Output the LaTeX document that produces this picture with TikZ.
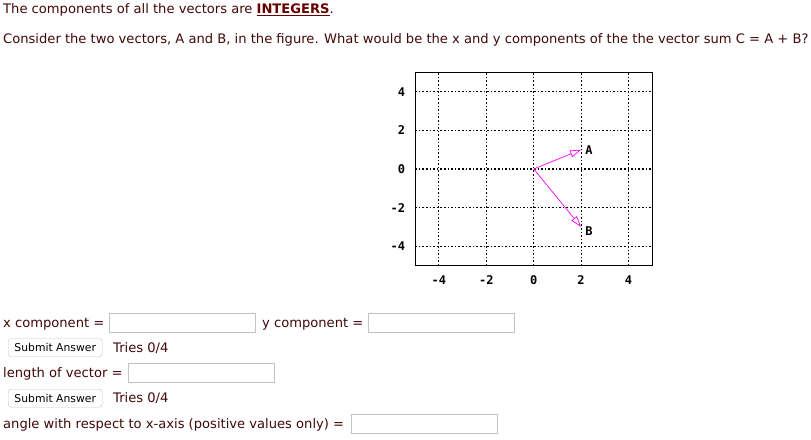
\documentclass[tikz,border=0pt]{standalone}
\usepackage{fontspec}
\setmainfont{DejaVu Sans}
\setmonofont{DejaVu Sans Mono}
\usetikzlibrary{arrows.meta}
\definecolor{txtcol}{RGB}{64,8,8}
\definecolor{emphcol}{RGB}{102,0,0}
\definecolor{veccol}{RGB}{255,0,255}
\definecolor{boxcol}{RGB}{195,195,195}
\begin{document}
\begin{tikzpicture}[x=1pt,y=-1pt,
  txt/.style={anchor=base west, inner sep=0pt, text=txtcol, font=\fontsize{13.1}{15}\selectfont},
  field/.style={draw=boxcol, minimum width=146pt, minimum height=19pt, anchor=north west, inner sep=0pt},
  button/.style={draw=boxcol, rounded corners=3pt, minimum width=94pt, minimum height=18pt, anchor=north west, inner sep=0pt, font=\fontsize{10.8}{12}\selectfont},
  tick/.style={inner sep=0pt, font=\ttfamily\bfseries\fontsize{12}{14}\selectfont},
  grid/.style={line width=1.1pt, dash pattern=on 1.6pt off 2pt},
  vector/.style={veccol, line width=0.7pt, -{Triangle[open, length=11pt, width=7pt]}}]
\useasboundingbox (0,0) rectangle (811,439);
% question text
\node[txt] (title) at (3,13.5) {The components of all the vectors are \textcolor{emphcol}{\underline{\textbf{INTEGERS}}}.};
\node[txt] (question) at (3,43.5) {Consider the two vectors, A and B, in the figure. What would be the x and y components of the the vector sum C = A + B?};
% plot
\begin{scope}[shift={(533.7,169)}, x=23.7pt, y=19.3pt]
\foreach \t in {-4,-2,0,2,4} {
  \draw[grid] (\t,-5) -- (\t,5);
  \draw[grid] (-5,\t) -- (5,\t);
  \node[tick, anchor=east] (yt\t) at ([xshift=-10pt]-5,\t) {\t};
  \node[tick] (xt\t) at ([yshift=-15pt]\t,-5) {\t};
}
\draw[line width=1.3pt] (-5,-5) rectangle (5,5);
\coordinate (O) at (0,0);
\coordinate (A) at (2,1);
\coordinate (B) at (2,-3);
\draw[vector] (O) -- (A);
\draw[vector] (O) -- (B);
\node[tick, anchor=west] (labA) at ([xshift=4pt]A) {A};
\node[tick, anchor=west] (labB) at ([xshift=4pt,yshift=-4pt]B) {B};
\end{scope}
% answer form
\node[txt] (xlab) at (3,327) {x component =};
\node[field] (xfield) at (109,312.5) {};
\node[txt] (ylab) at (262,327) {y component =};
\node[field] (yfield) at (368,312.5) {};
\node[button] (submit1) at (8,338.5) {Submit Answer};
\node[txt] (tries1) at (113,352.7) {Tries 0/4};
\node[txt] (lenlab) at (3,377.5) {length of vector =};
\node[field] (lenfield) at (128,363) {};
\node[button] (submit2) at (8,389) {Submit Answer};
\node[txt] (tries2) at (113,402.7) {Tries 0/4};
\node[txt] (anglab) at (3,428) {angle with respect to x-axis (positive values only) =};
\node[field] (angfield) at (351,414) {};
\end{tikzpicture}
\end{document}
